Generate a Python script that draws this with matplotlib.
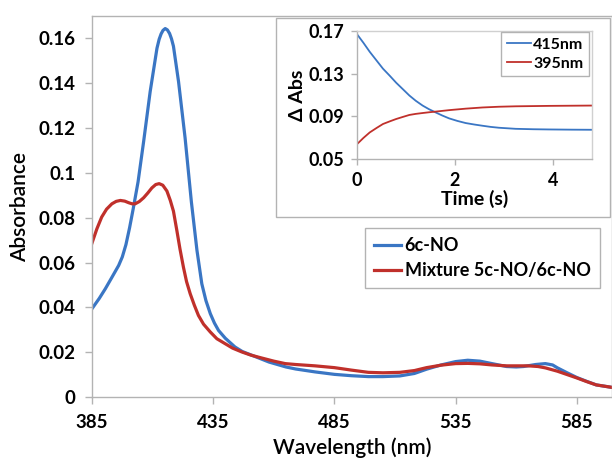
import matplotlib
matplotlib.use("Agg")
import matplotlib.pyplot as plt
from matplotlib.ticker import FuncFormatter
from matplotlib.patches import Rectangle

# ---- main spectra data ----
wl_6c = [385, 388, 390.5, 393, 396, 397.5, 399, 400.5, 402, 403, 404, 406.3, 409, 411.8,
         412.7, 413.5, 414.3, 415.2, 416.1, 417, 417.8, 418.6, 420.7, 423.4, 426, 428.3,
         430.3, 432, 433.8, 435.5, 437.2, 440, 444, 447, 451, 458, 465, 469, 477, 485, 492,
         499, 505, 512, 518, 523, 529, 535, 540, 545, 550, 556, 560, 563, 568, 572, 575,
         577, 581, 585, 589, 593, 600]
abs_6c = [0.0394, 0.044, 0.0483, 0.053, 0.0587, 0.0625, 0.068, 0.0755, 0.084, 0.090, 0.096,
          0.114, 0.1363, 0.1556, 0.1596, 0.162, 0.1636, 0.1644, 0.1638, 0.1622, 0.1598,
          0.1565, 0.1407, 0.1156, 0.087, 0.0654, 0.0505, 0.043, 0.0372, 0.033, 0.0297,
          0.0262, 0.0223, 0.0203, 0.0186, 0.0156, 0.0134, 0.0125, 0.0112, 0.0101, 0.0095,
          0.0091, 0.0091, 0.0094, 0.0105, 0.0124, 0.0143, 0.0158, 0.0164, 0.016, 0.0149,
          0.0136, 0.0134, 0.0136, 0.0145, 0.0149, 0.0143, 0.013, 0.0108, 0.0087, 0.007,
          0.0054, 0.0042]

wl_mix = [385, 387, 389, 391, 393.2, 395, 396.7, 398.5, 400.1, 401.5, 402.8, 404.5, 406.3,
          408, 409.7, 411.3, 412.7, 414.2, 415.9, 417.3, 418.6, 420, 421.3, 422.7, 424,
          425.5, 427.2, 428.9, 431, 433.8, 436.5, 439.9, 443, 446.8, 450.5, 455, 460, 464.7,
          469, 477, 485, 492, 499, 505, 512, 518, 523, 529, 535, 540, 545, 550, 556, 565,
          569, 572, 577, 581, 585, 589, 593, 600]
abs_mix = [0.0687, 0.075, 0.0803, 0.0838, 0.0862, 0.0873, 0.0877, 0.0874, 0.0867, 0.0862,
           0.0862, 0.0872, 0.0889, 0.091, 0.0933, 0.0948, 0.0952, 0.0945, 0.0919, 0.0877,
           0.0829, 0.0743, 0.066, 0.058, 0.0515, 0.0461, 0.041, 0.0364, 0.0325, 0.029, 0.026,
           0.0238, 0.0218, 0.0201, 0.0187, 0.0174, 0.016, 0.0149, 0.0145, 0.0139, 0.0131,
           0.012, 0.011, 0.0108, 0.011, 0.0118, 0.0131, 0.0142, 0.0149, 0.015, 0.0148,
           0.0143, 0.0139, 0.0139, 0.0136, 0.013, 0.0115, 0.01, 0.0085, 0.0069, 0.0054,
           0.0042]

x_ticks = [385, 435, 485, 535, 585]
y_ticks = [0, 0.02, 0.04, 0.06, 0.08, 0.1, 0.12, 0.14, 0.16]

# ---- inset kinetics data ----
t_415 = [0, 0.13, 0.26, 0.4, 0.53, 0.67, 0.80, 0.94, 1.07, 1.2, 1.34, 1.47, 1.6, 1.74,
         1.88, 2.05, 2.22, 2.4, 2.56, 2.73, 2.9, 3.24, 3.6, 3.92, 4.4, 4.8]
a_415 = [0.167, 0.159, 0.1505, 0.1423, 0.1347, 0.128, 0.1215, 0.1153, 0.1095, 0.1046,
         0.1001, 0.0967, 0.0938, 0.0908, 0.0881, 0.0857, 0.0837, 0.0823, 0.0812, 0.0801,
         0.0793, 0.0783, 0.0779, 0.0777, 0.0775, 0.0774]
t_395 = [0, 0.13, 0.26, 0.4, 0.53, 0.67, 0.8, 0.94, 1.07, 1.2, 1.34, 1.47, 1.6, 1.88,
         2.22, 2.56, 2.9, 3.24, 3.92, 4.8]
a_395 = [0.0639, 0.0697, 0.0749, 0.0791, 0.0828, 0.0853, 0.0875, 0.0895, 0.0913, 0.0923,
         0.0931, 0.0938, 0.0944, 0.0958, 0.0972, 0.0983, 0.099, 0.0994, 0.0998, 0.1001]
inset_xticks = [0, 2, 4]
inset_yticks = [0.05, 0.09, 0.13, 0.17]

BLUE = '#3a76c4'
RED = '#c0302b'
GRAY = '#b3b3b3'
FONT = 'Lato'

W, H = 612, 465
fig = plt.figure(figsize=(W / 100, H / 100), dpi=100)

ax = fig.add_axes([92 / W, 1 - 397 / H, (612 - 92) / W, (397 - 16) / H])
ax.plot(wl_6c, abs_6c, color=BLUE, lw=2.3, label='6c-NO', solid_joinstyle='round')
ax.plot(wl_mix, abs_mix, color=RED, lw=2.3, label='Mixture 5c-NO/6c-NO', solid_joinstyle='round')
ax.set_xlim(385, 599.5)
ax.set_ylim(0, 0.17)
ax.set_xticks(x_ticks)
ax.set_yticks(y_ticks)


def fmt(v, pos):
    s = ('%.2f' % v).rstrip('0').rstrip('.')
    return s if s else '0'


ax.yaxis.set_major_formatter(FuncFormatter(fmt))
for sp in ax.spines.values():
    sp.set_color(GRAY)
    sp.set_linewidth(1.0)
ax.tick_params(axis='both', colors=GRAY, length=5, width=1, direction='out',
               labelcolor='black', labelsize=13.5, pad=7)
for lbl in ax.get_xticklabels() + ax.get_yticklabels():
    lbl.set_fontfamily(FONT)
    lbl.set_fontweight('bold')
ax.set_xlabel('Wavelength (nm)', fontsize=15, family=FONT, fontweight='semibold', labelpad=5)
ax.set_ylabel('Absorbance', fontsize=15, family=FONT, fontweight='semibold', labelpad=6)

leg = ax.legend(loc='upper left', bbox_to_anchor=(365 / W, 1 - 228 / H),
                bbox_transform=fig.transFigure, borderaxespad=0, fancybox=False,
                edgecolor=GRAY, framealpha=1, handlelength=1.5, handletextpad=0.2,
                borderpad=0.5, labelspacing=0.45,
                prop={'family': FONT, 'weight': 'bold', 'size': 13})
leg.get_frame().set_linewidth(1.0)

# ---- inset outer frame ----
fig.patches.append(Rectangle((276 / W, 1 - 217 / H), (610 - 276) / W, (217 - 18) / H,
                             transform=fig.transFigure, facecolor='white',
                             edgecolor=GRAY, lw=1.0, zorder=2))

ins = fig.add_axes([357 / W, 1 - 159 / H, (592 - 357) / W, (159 - 31) / H], zorder=3)
ins.plot(t_415, a_415, color=BLUE, lw=1.3, label='415nm')
ins.plot(t_395, a_395, color=RED, lw=1.3, label='395nm')
ins.set_xlim(0, 4.8)
ins.set_ylim(0.05, 0.17)
ins.set_xticks(inset_xticks)
ins.set_yticks(inset_yticks)
ins.yaxis.set_major_formatter(FuncFormatter(fmt))
for sp in ins.spines.values():
    sp.set_color('#d0d0d0')
    sp.set_linewidth(1.0)
ins.spines['left'].set_color(GRAY)
ins.spines['bottom'].set_color(GRAY)
ins.tick_params(axis='both', colors=GRAY, length=4, width=1, direction='out',
                labelcolor='black', labelsize=13, pad=5)
for lbl in ins.get_xticklabels() + ins.get_yticklabels():
    lbl.set_fontfamily(FONT)
    lbl.set_fontweight('bold')
ins.set_xlabel('Time (s)', fontsize=14, family=FONT, fontweight='bold', labelpad=1)
ins.set_ylabel('Δ Abs', fontsize=14, family=FONT, fontweight='bold', labelpad=2)
ileg = ins.legend(loc='upper right', bbox_to_anchor=(589 / W, 1 - 32 / H),
                  bbox_transform=fig.transFigure, borderaxespad=0, fancybox=False,
                  edgecolor=GRAY, framealpha=1, handlelength=1.5, handletextpad=0.15,
                  borderpad=0.35, labelspacing=0.3,
                  prop={'family': FONT, 'weight': 'bold', 'size': 11.5})
ileg.get_frame().set_linewidth(1.0)

fig.savefig('out.png', dpi=100)
